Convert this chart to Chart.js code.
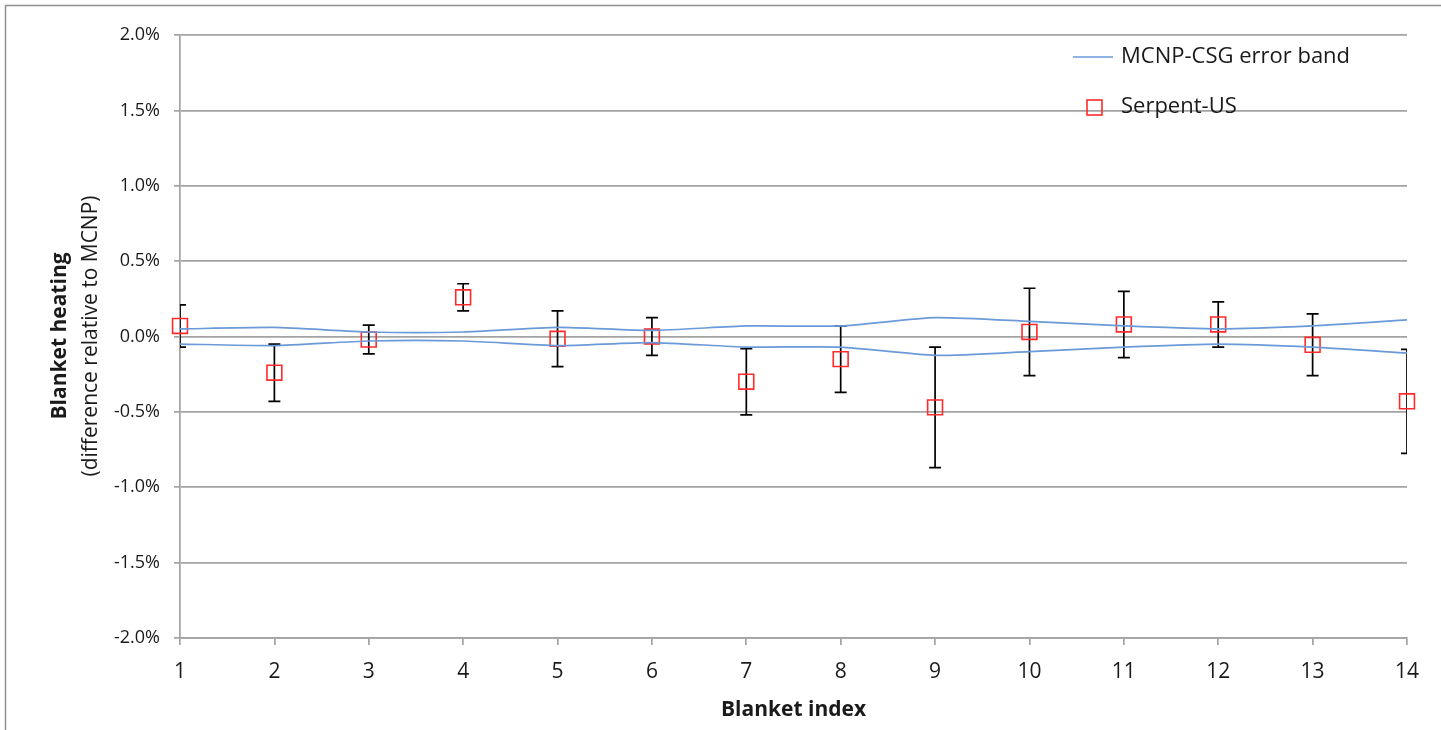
<!DOCTYPE html>
<html>
<head>
<meta charset="utf-8">
<script src="https://cdn.jsdelivr.net/npm/chart.js@4.4.1/dist/chart.umd.min.js"></script>
<style>
  html, body { margin: 0; padding: 0; background: #fff; }
  #wrap { position: relative; width: 1441px; height: 730px; }
</style>
</head>
<body>
<div id="wrap"><canvas id="heatChart" width="1441" height="730"></canvas></div>
<script>
// 블랭킷 번호 (x축)
const blanketIndex = ['1', '2', '3', '4', '5', '6', '7', '8', '9', '10', '11', '12', '13', '14'];
// Serpent-US 상대 차이 (%) 와 오차
const serpentUS = [0.07, -0.24, -0.02, 0.26, -0.015, 0.0, -0.30, -0.15, -0.47, 0.03, 0.08, 0.08, -0.055, -0.43];
const serpentErr = [0.14, 0.19, 0.095, 0.09, 0.185, 0.125, 0.22, 0.22, 0.40, 0.29, 0.22, 0.15, 0.205, 0.345];
// MCNP-CSG 오차 밴드 (± %)
const mcnpBand = [0.05, 0.06, 0.03, 0.03, 0.06, 0.04, 0.07, 0.07, 0.125, 0.10, 0.07, 0.05, 0.07, 0.11];
// y축 눈금
const yTicks = [-2.0, -1.5, -1.0, -0.5, 0.0, 0.5, 1.0, 1.5, 2.0];

const bandColor = '#6a9ad8';
const markColor = '#ff2a2a';
const gridColor = '#a3a3a3';
const textColor = '#1a1a1a';
const fontName = "'Open Sans', sans-serif";

// 오차 막대 그리기
const errorBars = {
    id: 'errorBars',
    beforeDatasetsDraw(chart) {
        const ctx = chart.ctx;
        const area = chart.chartArea;
        const meta = chart.getDatasetMeta(2);
        const y = chart.scales.y;
        ctx.save();
        ctx.beginPath();
        ctx.rect(area.left, area.top, area.right - area.left, area.bottom - area.top);
        ctx.clip();
        ctx.strokeStyle = '#000';
        ctx.lineWidth = 1.7;
        meta.data.forEach((pt, i) => {
            const top = y.getPixelForValue(serpentUS[i] + serpentErr[i]);
            const bot = y.getPixelForValue(serpentUS[i] - serpentErr[i]);
            ctx.beginPath();
            ctx.moveTo(pt.x, top);
            ctx.lineTo(pt.x, bot);
            ctx.moveTo(pt.x - 6, top);
            ctx.lineTo(pt.x + 6, top);
            ctx.moveTo(pt.x - 6, bot);
            ctx.lineTo(pt.x + 6, bot);
            ctx.stroke();
        });
        ctx.restore();
    }
};

// 테두리, 범례, y축 제목
const decorations = {
    id: 'decorations',
    beforeDraw(chart) {
        const ctx = chart.ctx;
        ctx.save();
        ctx.strokeStyle = '#8f8f8f';
        ctx.lineWidth = 1.5;
        ctx.strokeRect(5.5, 5.5, 1500, 800);
        ctx.restore();
    },
    afterDraw(chart) {
        const ctx = chart.ctx;
        ctx.save();
        // 범례
        ctx.strokeStyle = bandColor;
        ctx.lineWidth = 1.6;
        ctx.beginPath();
        ctx.moveTo(1073, 57);
        ctx.lineTo(1113, 57);
        ctx.stroke();
        ctx.strokeStyle = markColor;
        ctx.lineWidth = 1.6;
        ctx.strokeRect(1087, 100, 15, 15);
        ctx.fillStyle = textColor;
        ctx.font = '22px ' + fontName;
        ctx.textBaseline = 'middle';
        ctx.textAlign = 'left';
        ctx.fillText(chart.data.datasets[0].label, 1121, 57);
        ctx.fillText(chart.data.datasets[2].label, 1121, 107);
        // y축 제목
        ctx.translate(60, 336);
        ctx.rotate(-Math.PI / 2);
        ctx.textAlign = 'center';
        ctx.font = 'bold 21px ' + fontName;
        ctx.fillText('Blanket heating', 0, 0);
        ctx.font = '21px ' + fontName;
        ctx.fillText('(difference relative to MCNP)', 0, 31);
        ctx.restore();
    }
};

const ctx = document.getElementById('heatChart').getContext('2d');
new Chart(ctx, {
    type: 'line',
    data: {
        labels: blanketIndex,
        datasets: [{
            label: 'MCNP-CSG error band',
            data: mcnpBand.map(v => v),
            borderColor: bandColor,
            borderWidth: 1.7,
            pointRadius: 0,
            tension: 0.2,
            fill: false
        }, {
            label: 'MCNP-CSG error band (lower)',
            data: mcnpBand.map(v => -v),
            borderColor: bandColor,
            borderWidth: 1.7,
            pointRadius: 0,
            tension: 0.2,
            fill: false
        }, {
            label: 'Serpent-US',
            data: serpentUS,
            showLine: false,
            pointStyle: 'rect',
            pointRadius: 10.5,
            pointBorderWidth: 1.6,
            pointBorderColor: markColor,
            pointBackgroundColor: 'rgba(0,0,0,0)'
        }]
    },
    options: {
        responsive: false,
        animation: false,
        layout: { padding: { left: 0, right: 34, top: 35, bottom: 0 } },
        plugins: {
            legend: { display: false },
            tooltip: { enabled: false }
        },
        scales: {
            x: {
                offset: false,
                afterFit: scale => { scale.height = 92; },
                grid: { drawOnChartArea: false, drawTicks: true, tickLength: 7, color: gridColor, lineWidth: 1.7 },
                border: { display: true, color: gridColor, width: 1.7 },
                ticks: { color: textColor, padding: 14, font: { family: fontName, size: 21 } },
                title: {
                    display: true,
                    text: 'Blanket index',
                    color: textColor,
                    padding: { top: 0, bottom: 7 },
                    font: { family: fontName, size: 21, weight: 'bold' }
                }
            },
            y: {
                min: -2,
                max: 2,
                afterFit: scale => { scale.width = 180; },
                afterBuildTicks: scale => { scale.ticks = yTicks.map(v => ({ value: v })); },
                grid: { color: gridColor, lineWidth: 1.7, tickLength: 6 },
                border: { display: true, color: gridColor, width: 1.7 },
                ticks: {
                    color: textColor,
                    padding: 14,
                    font: { family: fontName, size: 18 },
                    callback: v => v.toFixed(1) + '%'
                }
            }
        }
    },
    plugins: [errorBars, decorations]
});
</script>
</body>
</html>
